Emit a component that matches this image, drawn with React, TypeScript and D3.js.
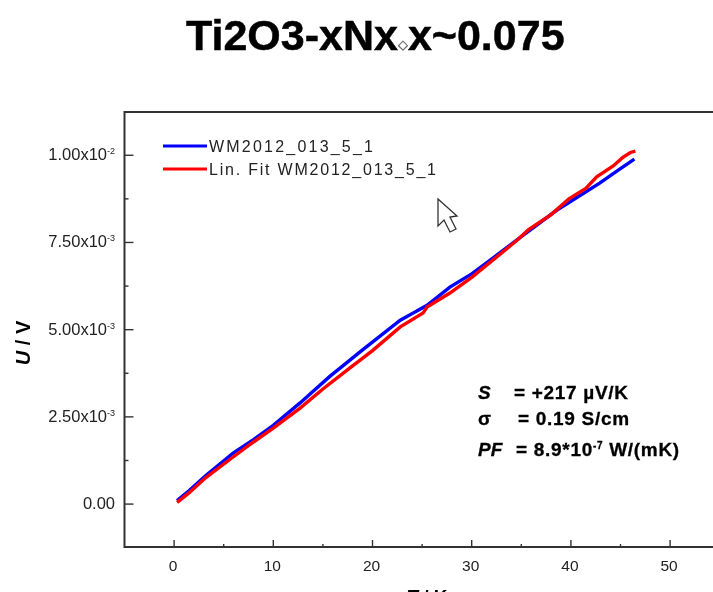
import React, { useRef, useEffect } from "react";
import * as d3 from "d3";

const titleText = "Ti2O3-xNx";
const titleTail = "x~0.075";
const seriesNames = ["WM2012_013_5_1", "Lin. Fit WM2012_013_5_1"];
const legendWidths = [164, 227];

// U in units of 1e-3 V
const dataT = [0.3, 1.5, 3.2, 5.95, 8, 10, 12.7, 15.7, 19, 22.8, 25.5, 27.8, 30, 31.9, 35.2, 38.6, 41, 42.9, 44.7, 46.4];
const dataU = [0.1, 0.38, 0.82, 1.46, 1.85, 2.26, 2.9, 3.66, 4.42, 5.27, 5.7, 6.22, 6.6, 7.0, 7.71, 8.43, 8.86, 9.2, 9.56, 9.89];

const fitT = [0.3, 1.5, 3.2, 5.95, 8, 10, 12.7, 15, 17.7, 20, 22.8, 25.1, 25.5, 27.8, 30, 32.5, 34.6, 35.7, 38, 39.8, 41.5, 42.6, 44.3, 45.2, 46, 46.5];
const fitU = [0.05, 0.32, 0.76, 1.35, 1.78, 2.18, 2.75, 3.3, 3.9, 4.4, 5.08, 5.48, 5.65, 6.05, 6.5, 7.08, 7.57, 7.86, 8.3, 8.75, 9.05, 9.38, 9.7, 9.93, 10.08, 10.12];

const xTicks = [0, 10, 20, 30, 40, 50];
const xMinorTicks = [5, 15, 25, 35, 45];
const yTicks = [0, 2.5, 5, 7.5, 10];
const yMinorTicks = [1.25, 3.75, 6.25, 8.75];
const yTickLabels = ["0.00", "2.50x10", "5.00x10", "7.50x10", "1.00x10"];
const yTickExps = ["", "-3", "-3", "-3", "-2"];

const App = () => {
  const svgRef = useRef<SVGSVGElement>(null);

  useEffect(() => {
    const width = 713;
    const height = 592;
    const font = "Liberation Sans, Arial, sans-serif";
    const axisColor = "#333";
    const textColor = "#222";

    const svg = d3.select(svgRef.current).attr("width", width).attr("height", height);
    svg.selectAll("*").remove();

    const defs = svg.append("defs");
    defs
      .append("filter")
      .attr("id", "soft")
      .attr("filterUnits", "userSpaceOnUse")
      .attr("x", 0)
      .attr("y", 0)
      .attr("width", width)
      .attr("height", height)
      .append("feGaussianBlur")
      .attr("stdDeviation", 0.6);

    const root = svg.append("g").attr("filter", "url(#soft)");
    root.append("rect").attr("width", width).attr("height", height).attr("fill", "#fff");

    const x = d3.scaleLinear().domain([-5, 55]).range([124.5, 719.7]);
    const y = d3.scaleLinear().domain([-1.23, 11.24]).range([547, 112]);

    // title
    const title = root
      .append("text")
      .attr("x", 186)
      .attr("y", 50)
      .attr("fill", "#000")
      .attr("stroke", "#000")
      .attr("stroke-width", 0.5)
      .attr("font-family", font)
      .attr("font-weight", "bold")
      .attr("font-size", 43);
    title.append("tspan").text(titleText);
    title.append("tspan").attr("font-size", 13).attr("font-weight", "normal").attr("fill", "#555").attr("stroke-width", 0.3).attr("stroke", "#555").attr("dy", -1).text("◇");
    title.append("tspan").attr("dy", 1).text(titleTail);

    // frame
    root
      .append("path")
      .attr("d", `M${x.range()[1]},${y(11.24)}H${x(-5)}V${y(-1.23)}H${x.range()[1]}`)
      .attr("fill", "none")
      .attr("stroke", axisColor)
      .attr("stroke-width", 2);

    const ticks = root.append("g").attr("stroke", axisColor).attr("stroke-width", 1.4);
    ticks
      .selectAll("line.xmajor")
      .data(xTicks)
      .join("line")
      .attr("class", "xmajor")
      .attr("x1", (d) => x(d))
      .attr("x2", (d) => x(d))
      .attr("y1", y(-1.23))
      .attr("y2", y(-1.23) - 7);
    ticks
      .selectAll("line.xminor")
      .data(xMinorTicks)
      .join("line")
      .attr("class", "xminor")
      .attr("x1", (d) => x(d))
      .attr("x2", (d) => x(d))
      .attr("y1", y(-1.23))
      .attr("y2", y(-1.23) - 3);
    ticks
      .selectAll("line.ymajor")
      .data(yTicks)
      .join("line")
      .attr("class", "ymajor")
      .attr("x1", x(-5))
      .attr("x2", x(-5) + 9)
      .attr("y1", (d) => y(d))
      .attr("y2", (d) => y(d));
    ticks
      .selectAll("line.yminor")
      .data(yMinorTicks)
      .join("line")
      .attr("class", "yminor")
      .attr("x1", x(-5))
      .attr("x2", x(-5) + 4)
      .attr("y1", (d) => y(d))
      .attr("y2", (d) => y(d));

    // tick labels
    root
      .append("g")
      .selectAll("text")
      .data(xTicks)
      .join("text")
      .attr("x", (d) => x(d) - 1)
      .attr("y", y(-1.23) + 24)
      .attr("text-anchor", "middle")
      .attr("fill", textColor)
      .attr("font-family", font)
      .attr("font-size", 15.5)
      .text((d) => d);

    yTicks.forEach((d, i) => {
      const label = root
        .append("text")
        .attr("x", 115)
        .attr("y", y(d) + 5)
        .attr("text-anchor", "end")
        .attr("fill", textColor)
        .attr("font-family", font)
        .attr("font-size", 16.5)
        .text(yTickLabels[i]);
      if (yTickExps[i]) {
        label
          .append("tspan")
          .attr("dy", -6)
          .attr("font-size", 9)
          .text(yTickExps[i]);
      }
    });

    // axis titles
    const yTitle = root
      .append("text")
      .attr("transform", "translate(30,343) rotate(-90)")
      .attr("text-anchor", "middle")
      .attr("fill", "#000")
      .attr("font-family", font)
      .attr("font-weight", "bold")
      .attr("font-size", 20);
    yTitle.append("tspan").attr("font-style", "italic").text("U");
    yTitle.append("tspan").text(" / V");

    // cut by the bottom of the page, as in the reference
    const xTitle = root
      .append("text")
      .attr("x", 427)
      .attr("y", 603)
      .attr("text-anchor", "middle")
      .attr("fill", "#000")
      .attr("font-family", font)
      .attr("font-weight", "bold")
      .attr("font-size", 19);
    xTitle.append("tspan").attr("font-style", "italic").text("T");
    xTitle.append("tspan").text(" / K");

    // curves
    const blueLine = d3
      .line<number>()
      .x((d) => x(d))
      .y((_, i) => y(dataU[i]));
    const redLine = d3
      .line<number>()
      .x((d) => x(d))
      .y((_, i) => y(fitU[i]));

    root
      .append("path")
      .attr("d", blueLine(dataT))
      .attr("fill", "none")
      .attr("stroke", "#0000ff")
      .attr("stroke-width", 3.4);
    root
      .append("path")
      .attr("d", redLine(fitT))
      .attr("fill", "none")
      .attr("stroke", "#ff0000")
      .attr("stroke-width", 3.4);

    // legend
    const legendColors = ["#0000ff", "#ff0000"];
    seriesNames.forEach((name, i) => {
      const ly = 146 + i * 23;
      root
        .append("line")
        .attr("x1", 163)
        .attr("x2", 207)
        .attr("y1", ly)
        .attr("y2", ly)
        .attr("stroke", legendColors[i])
        .attr("stroke-width", 3.2);
      root
        .append("text")
        .attr("x", 209)
        .attr("y", ly + 6)
        .attr("fill", textColor)
        .attr("font-family", font)
        .attr("font-size", 16)
        .attr("textLength", legendWidths[i])
        .attr("lengthAdjust", "spacing")
        .text(name);
    });

    // mouse cursor caught in the screenshot
    root
      .append("path")
      .attr("d", "M438,199V226L444,220L450,232L456,229L450,217L457,216Z")
      .attr("fill", "#fff")
      .attr("stroke", "#333")
      .attr("stroke-width", 1.3);

    // annotation
    const noteRows = [
      { label: "S", italic: true, rest: "= +217 µV/K", restX: 514, ly: 399 },
      { label: "σ", italic: false, rest: "= 0.19 S/cm", restX: 518, ly: 425 },
      { label: "PF", italic: true, rest: "= 8.9*10", restX: 516, ly: 456 },
    ];
    noteRows.forEach((row) => {
      const base = {
        fill: "#000",
        stroke: "#000",
        "stroke-width": 0.3,
        "font-family": font,
        "font-weight": "bold",
        "font-size": 19,
      };
      const a = root.append("text").attr("x", 478).attr("y", row.ly).text(row.label);
      const b = root.append("text").attr("x", row.restX).attr("y", row.ly).attr("letter-spacing", 0.7).text(row.rest);
      Object.entries(base).forEach(([k, v]) => {
        a.attr(k, v);
        b.attr(k, v);
      });
      if (row.italic) a.attr("font-style", "italic");
      if (row.label === "PF") {
        b.append("tspan").attr("dy", -7).attr("font-size", 10).text("-7");
        b.append("tspan").attr("dy", 7).text(" W/(mK)");
      }
    });
  }, []);

  return <svg ref={svgRef} style={{ position: "absolute", left: 0, top: 0 }}></svg>;
};

export default App;
